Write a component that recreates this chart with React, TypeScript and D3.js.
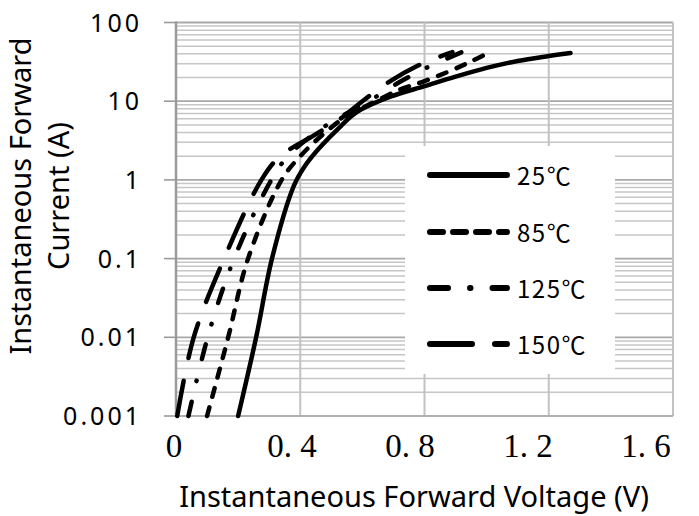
import React from "react";
import * as d3 from "d3";

// ---- data ----
const xTicks = [0, 0.4, 0.8, 1.2, 1.6];
const xTickLabels = ["0", "0. 4", "0. 8", "1. 2", "1. 6"];
const yTicks = [0.001, 0.01, 0.1, 1, 10, 100];
const yTickLabels = ["0.001", "0.01", "0.1", "1", "10", "100"];

const seriesNames = ["25℃", "85℃", "125℃", "150℃"];

const v25 = [0.2, 0.258, 0.309, 0.38, 0.415, 0.46, 0.53, 0.583, 0.69, 0.8, 0.9, 1.0, 1.1, 1.2, 1.27];
const i25 = [0.001, 0.01, 0.1, 0.85, 1.5, 2.5, 4.8, 7.3, 11.4, 15.5, 20.5, 26.5, 32.5, 37.5, 41];

const v85 = [0.1, 0.168, 0.232, 0.34, 0.4, 0.48, 0.55, 0.62, 0.72, 0.8, 0.88, 0.95, 1.005];
const i85 = [0.001, 0.01, 0.1, 1, 2, 4, 6.5, 9, 14, 18, 24, 32, 41];

const v125 = [0.04, 0.102, 0.187, 0.307, 0.36, 0.45, 0.52, 0.626, 0.72, 0.81, 0.92];
const i125 = [0.001, 0.01, 0.1, 1, 2, 4, 6, 10.3, 17.5, 27, 42];

const v150 = [0.004, 0.057, 0.155, 0.275, 0.335, 0.44, 0.53, 0.6, 0.69, 0.776, 0.85, 0.89];
const i150 = [0.001, 0.01, 0.1, 1, 2, 3.6, 6, 10, 18, 28, 37, 42];

const seriesV = [v25, v85, v125, v150];
const seriesI = [i25, i85, i125, i150];

const curveDash = ["none", "9,11", "15,21,0.5,22", "36,23"];
const legendDash = ["none", "13,10", "18,22,0.5,22", "42,23"];

export default function App() {
  const W = 699;
  const H = 516;
  const x = d3.scaleLinear().domain([0, 1.6]).range([176, 673]);
  const y = d3.scaleLog().domain([0.001, 100]).range([416, 22.5]);

  const minor: number[] = [];
  for (let d = -3; d <= 1; d++) {
    for (let k = 2; k <= 9; k++) minor.push(k * Math.pow(10, d));
  }

  const line = d3
    .line<[number, number]>()
    .x((p) => x(p[0]))
    .y((p) => y(p[1]))
    .curve(d3.curveCatmullRom.alpha(0.5));

  const legendY = [175, 232, 288, 344];

  return (
    <svg
      width={W}
      height={H}
      style={{ position: "absolute", left: 0, top: 0, background: "#fff" }}
    >
      {/* minor horizontal grid */}
      {minor.map((v, i) => (
        <line key={"m" + i} x1={x(0)} x2={x(1.6)} y1={y(v)} y2={y(v)} stroke="#c6c6c6" strokeWidth={1.5} />
      ))}
      {/* major horizontal grid */}
      {yTicks.map((v, i) => (
        <line key={"M" + i} x1={x(0)} x2={x(1.6)} y1={y(v)} y2={y(v)} stroke="#a8a8a8" strokeWidth={1.8} />
      ))}
      {/* vertical grid */}
      {xTicks.slice(1).map((v, i) => (
        <line key={"v" + i} x1={x(v)} x2={x(v)} y1={y(100)} y2={y(0.001)} stroke="#c2c2c2" strokeWidth={2} />
      ))}
      {/* axes */}
      <line x1={x(0)} x2={x(1.6)} y1={y(0.001)} y2={y(0.001)} stroke="#b0b0b0" strokeWidth={2} />
      <line x1={x(0)} x2={x(0)} y1={y(100) - 1} y2={y(0.001) + 1} stroke="#9a9a9a" strokeWidth={2.5} />
      {yTicks.map((v, i) => (
        <line key={"t" + i} x1={x(0) - 12} x2={x(0)} y1={y(v)} y2={y(v)} stroke="#9a9a9a" strokeWidth={1.6} />
      ))}

      {/* legend box background */}
      <rect x={405} y={146} width={210} height={228} fill="#fff" />

      {/* curves */}
      {seriesV.map((vs, s) => (
        <path
          key={"c" + s}
          d={line(vs.map((v, j) => [v, seriesI[s][j]] as [number, number])) || ""}
          fill="none"
          stroke="#000"
          strokeWidth={4.5}
          strokeLinecap="round"
          strokeLinejoin="round"
          strokeDasharray={curveDash[s]}
        />
      ))}

      {/* legend */}
      {seriesNames.map((n, s) => (
        <g key={"l" + s}>
          <line
            x1={430}
            x2={507}
            y1={legendY[s]}
            y2={legendY[s]}
            stroke="#000"
            strokeWidth={6}
            strokeLinecap="round"
            strokeDasharray={legendDash[s]}
          />
          <text
            x={517}
            y={legendY[s] + 10}
            fontFamily="'Noto Sans CJK SC', 'Noto Sans', sans-serif"
            fontSize={24}
            letterSpacing={1.5}
            fill="#000"
          >
            {n}
          </text>
        </g>
      ))}

      {/* y tick labels */}
      {yTicks.map((v, i) => (
        <text
          key={"yl" + i}
          x={142}
          y={y(v)}
          dy="0.36em"
          textAnchor="end"
          fontFamily="'Noto Sans', sans-serif"
          fontSize={25}
          letterSpacing={3}
          fill="#000"
        >
          {yTickLabels[i]}
        </text>
      ))}

      {/* x tick labels */}
      {xTicks.map((v, i) => (
        <text
          key={"xl" + i}
          x={x(v) - 2 - 15.6 * v}
          y={457}
          textAnchor="middle"
          fontFamily="'Liberation Serif', serif"
          fontSize={33}
          fill="#000"
        >
          {xTickLabels[i]}
        </text>
      ))}

      {/* axis titles */}
      <text
        x={414}
        y={507}
        textAnchor="middle"
        fontFamily="'Noto Sans', sans-serif"
        fontSize={29}
        fill="#000"
      >
        Instantaneous Forward Voltage (V)
      </text>
      <text
        transform="translate(31,196) rotate(-90)"
        textAnchor="middle"
        fontFamily="'Noto Sans', sans-serif"
        fontSize={29}
        fill="#000"
      >
        Instantaneous Forward
      </text>
      <text
        transform="translate(69,196) rotate(-90)"
        textAnchor="middle"
        fontFamily="'Noto Sans', sans-serif"
        fontSize={29}
        fill="#000"
      >
        Current (A)
      </text>
    </svg>
  );
}
